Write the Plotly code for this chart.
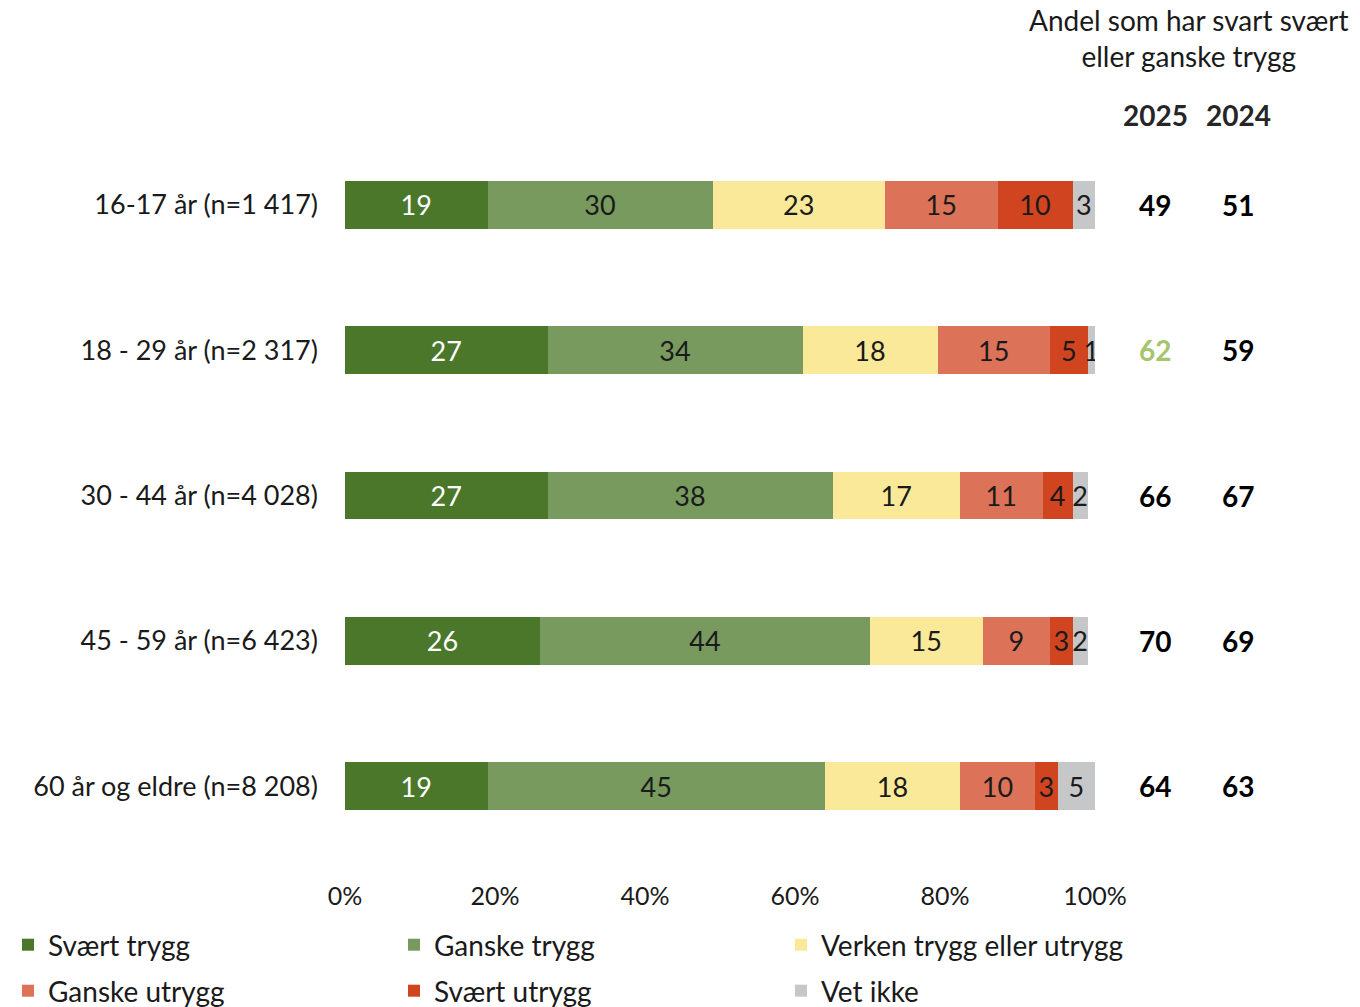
import plotly.graph_objects as go

categories = ["16-17 år (n=1 417)", "18 - 29 år (n=2 317)", "30 - 44 år (n=4 028)",
              "45 - 59 år (n=6 423)", "60 år og eldre (n=8 208)"]
series_names = ["Svært trygg", "Ganske trygg", "Verken trygg eller utrygg",
                "Ganske utrygg", "Svært utrygg", "Vet ikke"]
svaert_trygg = [19, 27, 27, 26, 19]
ganske_trygg = [30, 34, 38, 44, 45]
verken = [23, 18, 17, 15, 18]
ganske_utrygg = [15, 15, 11, 9, 10]
svaert_utrygg = [10, 5, 4, 3, 3]
vet_ikke = [3, 1, 2, 2, 5]
andel_2025 = [49, 62, 66, 70, 64]
andel_2024 = [51, 59, 67, 69, 63]
highlight_2025 = [False, True, False, False, False]
tick_vals = [0, 20, 40, 60, 80, 100]
tick_text = ["0%", "20%", "40%", "60%", "80%", "100%"]

series_values = [svaert_trygg, ganske_trygg, verken, ganske_utrygg, svaert_utrygg, vet_ikke]
colors = ["#4A7729", "#789A5F", "#FBE99A", "#DC7258", "#D04520", "#C6C7C9"]
text_colors = ["white", "#1a1a1a", "#1a1a1a", "#1a1a1a", "#1a1a1a", "#1a1a1a"]

FONT = "Lato"
W, H = 1360, 1007

# one single-entry legend per series, laid out as 3 columns x 2 rows
legend_ids = ["legend", "legend2", "legend3", "legend4", "legend5", "legend6"]
legend_x_px = [8, 394, 781, 8, 394, 781]
legend_y_px = [920, 920, 920, 966, 966, 966]

fig = go.Figure()
for name, vals, col, tcol, lg in zip(series_names, series_values, colors,
                                     text_colors, legend_ids):
    fig.add_trace(go.Bar(
        y=categories, x=vals, name=name, orientation="h",
        marker=dict(color=col, line=dict(width=0)),
        text=[str(v) for v in vals], textposition="inside",
        insidetextanchor="middle", constraintext="none",
        textfont=dict(color=tcol, size=27, family=FONT),
        width=0.33, hoverinfo="skip",
        legend=lg,
    ))

PLOT_L, PLOT_R = 345, 1095
PLOT_T, PLOT_B = 132, 859
def px_to_paper(px):
    return (px - PLOT_L) / (PLOT_R - PLOT_L)
def py_to_paper(py):
    return (PLOT_B - py) / (PLOT_B - PLOT_T)

annotations = []
x25, x24 = px_to_paper(1155), px_to_paper(1238)
for cat, a25, a24, hl in zip(categories, andel_2025, andel_2024, highlight_2025):
    annotations.append(dict(x=x25, y=cat, xref="paper", yref="y", text=f"<b>{a25}</b>",
                            showarrow=False, xanchor="center", yanchor="middle",
                            font=dict(size=28, family=FONT,
                                      color="#A6C46C" if hl else "#000000")))
    annotations.append(dict(x=x24, y=cat, xref="paper", yref="y", text=f"<b>{a24}</b>",
                            showarrow=False, xanchor="center", yanchor="middle",
                            font=dict(size=28, family=FONT, color="#000000")))
for xx, lab in [(x25, "2025"), (x24, "2024")]:
    annotations.append(dict(x=xx, y=py_to_paper(115), xref="paper", yref="paper",
                            text=f"<b>{lab}</b>", showarrow=False,
                            xanchor="center", yanchor="middle",
                            font=dict(size=28, family=FONT, color="#262626")))
annotations.append(dict(x=px_to_paper(1188), y=py_to_paper(38), xref="paper", yref="paper",
                        text="Andel som har svart svært<br>eller ganske trygg", showarrow=False,
                        xanchor="center", yanchor="middle",
                        align="center", font=dict(size=28, family=FONT, color="#1a1a1a")))

legend_common = dict(orientation="h", xref="container", yref="container",
                     xanchor="left", yanchor="top",
                     font=dict(size=28, family=FONT, color="#1a1a1a"),
                     itemclick=False, itemdoubleclick=False,
                     bgcolor="rgba(0,0,0,0)")
legends = {lg: dict(x=lx / W, y=1 - ly / H, **legend_common)
           for lg, lx, ly in zip(legend_ids, legend_x_px, legend_y_px)}

fig.update_layout(
    barmode="stack",
    width=W, height=H,
    margin=dict(l=PLOT_L, r=W - PLOT_R, t=PLOT_T, b=H - PLOT_B, autoexpand=False),
    paper_bgcolor="white", plot_bgcolor="white",
    font=dict(family=FONT, size=26, color="#1a1a1a"),
    xaxis=dict(range=[0, 100], tickvals=tick_vals, ticktext=tick_text,
               showgrid=False, zeroline=False, showline=False, ticks="",
               tickfont=dict(size=25, family=FONT, color="#1a1a1a"),
               ticklabelstandoff=20, fixedrange=True),
    yaxis=dict(autorange="reversed", showgrid=False, zeroline=False, showline=False,
               ticks="", tickfont=dict(size=27, family=FONT, color="#1a1a1a"),
               ticklabelstandoff=26, fixedrange=True),
    annotations=annotations,
    showlegend=True,
    **legends,
)

fig.write_html("out.html", config={"displayModeBar": False},
               post_script="document.body.style.margin='0';")
